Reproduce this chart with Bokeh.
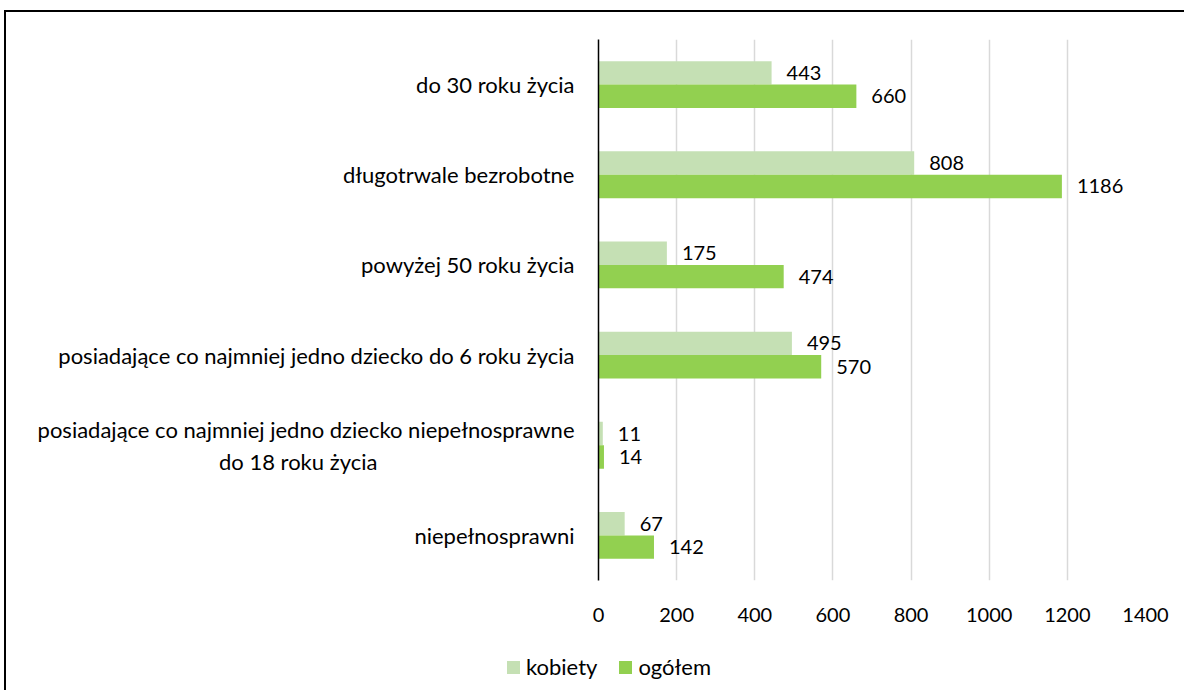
from bokeh.plotting import figure
from bokeh.models import ColumnDataSource, FactorRange, FixedTicker, Div
from bokeh.layouts import column
from bokeh.transform import dodge
from bokeh.core.properties import value
from bokeh.embed import file_html
from bokeh.resources import INLINE

categories = [
    "do 30 roku życia",
    "długotrwale bezrobotne",
    "powyżej 50 roku życia",
    "posiadające co najmniej jedno dziecko do 6 roku życia",
    "posiadające co najmniej jedno dziecko niepełnosprawne\ndo 18 roku życia",
    "niepełnosprawni",
]
kobiety = [443, 808, 175, 495, 11, 67]
ogolem = [660, 1186, 474, 570, 14, 142]
series_names = ["kobiety", "ogółem"]
series_colors = ["#c5e0b4", "#92d050"]
x_ticks = [0, 200, 400, 600, 800, 1000, 1200, 1400]

FONT = "Lato"
WORD_SIZE = "22px"
NUM_SIZE = "20px"


def display_label(c):
    # axis labels are right-aligned line by line; pad the short second line so it sits centred
    if "\n" not in c:
        return c
    first, second = c.split("\n")
    return first + "\n" + second + "\u00a0" * 35 + "\u200b"


disp = [display_label(c) for c in categories]

src = ColumnDataSource(dict(
    cat=disp,
    kobiety=kobiety,
    ogolem=ogolem,
    kob_lbl=[str(v) for v in kobiety],
    og_lbl=[str(v) for v in ogolem],
))

p = figure(
    width=1178, height=628,
    x_range=(0, 1400),
    y_range=FactorRange(*reversed(disp)),
    output_backend="svg", toolbar_location=None,
    min_border_left=592, min_border_top=27, min_border_right=39, min_border_bottom=60,
)
p.outline_line_color = None

p.hbar(y=dodge("cat", 0.13, range=p.y_range), right="kobiety", left=0, height=0.26,
       source=src, fill_color=series_colors[0], line_color=None)
p.hbar(y=dodge("cat", -0.13, range=p.y_range), right="ogolem", left=0, height=0.26,
       source=src, fill_color=series_colors[1], line_color=None)

p.text(x="kobiety", y=dodge("cat", 0.13, range=p.y_range), text="kob_lbl", source=src,
       x_offset=15, text_baseline="middle", text_align="left",
       text_font=value(FONT), text_font_size=NUM_SIZE, text_color="#000000")
p.text(x="ogolem", y=dodge("cat", -0.13, range=p.y_range), text="og_lbl", source=src,
       x_offset=15, text_baseline="middle", text_align="left",
       text_font=value(FONT), text_font_size=NUM_SIZE, text_color="#000000")

p.xaxis.ticker = FixedTicker(ticks=x_ticks)
p.xaxis.axis_line_color = None
p.xaxis.major_tick_line_color = None
p.xaxis.minor_tick_line_color = None
p.xaxis.major_label_standoff = 21
p.xaxis.major_label_text_font = FONT
p.xaxis.major_label_text_font_size = NUM_SIZE
p.xaxis.major_label_text_color = "#000000"

p.yaxis.axis_line_color = "#000000"
p.yaxis.axis_line_width = 1.5
p.yaxis.major_tick_line_color = None
p.yaxis.minor_tick_line_color = None
p.yaxis.major_label_standoff = 18
p.yaxis.major_label_text_font = FONT
p.yaxis.major_label_text_font_size = WORD_SIZE
p.yaxis.major_label_text_color = "#000000"

p.xgrid.grid_line_color = "#d9d9d9"
p.xgrid.grid_line_width = 1.5
p.ygrid.grid_line_color = None

# legend strip below the chart
swatch = ('<span style="display:inline-block;width:13px;height:13px;background:{c};'
          'margin-left:{ml}px;margin-right:6px"></span><span>{t}</span>')
items_html = "".join(
    swatch.format(c=c, t=t, ml=(0 if i == 0 else 22))
    for i, (c, t) in enumerate(zip(series_colors, series_names))
)
legend_div = Div(
    text=('<div style="display:flex;align-items:center;padding-left:501px;padding-top:16px;'
          f'font-family:{FONT};font-size:{WORD_SIZE};line-height:22px;color:#000000">'
          + items_html + '</div>'),
    width=1178, height=50,
    styles={"margin": "0px"},
)

inner = column(p, legend_div, spacing=0,
               styles={"border-top": "2px solid black", "border-left": "2px solid black"})
outer = column(inner, styles={"padding-left": "4px", "padding-top": "10px"})

open("out.html", "w").write(file_html(outer, INLINE))
